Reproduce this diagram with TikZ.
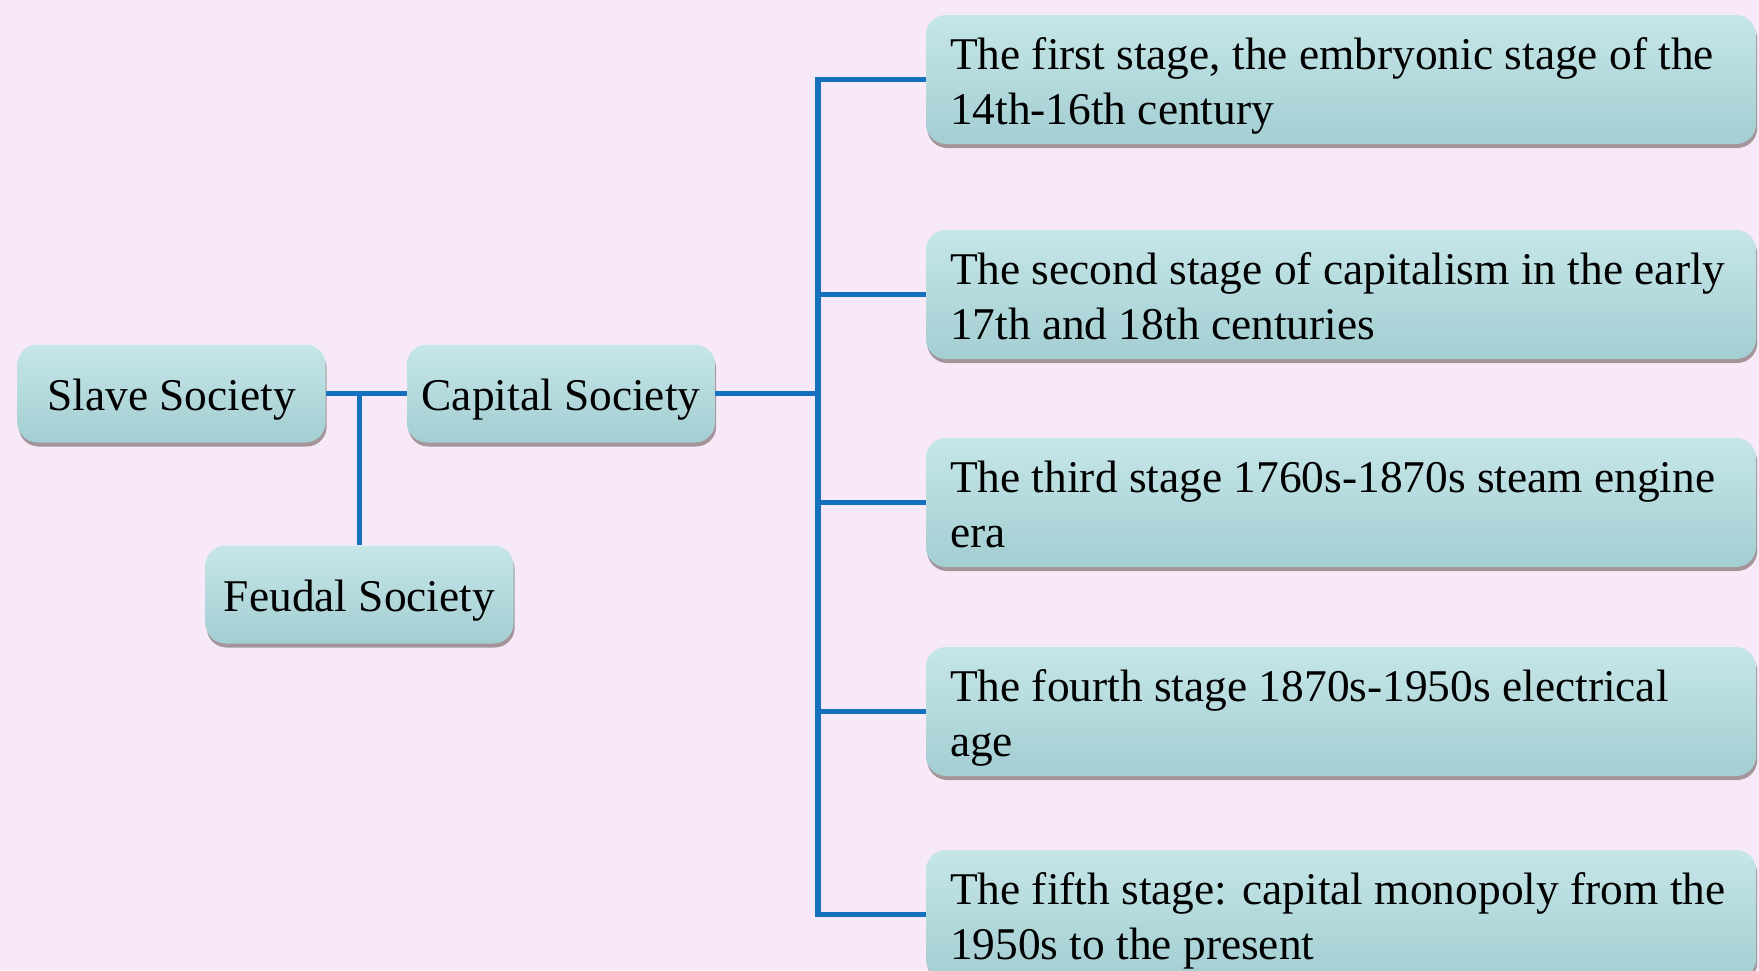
\documentclass[tikz,border=0pt]{standalone}
\usepackage{fontspec}
\setmainfont{Liberation Serif}
\usetikzlibrary{shadows}
\definecolor{bg}{HTML}{F7E9F8}
\definecolor{boxtop}{HTML}{C6E6E8}
\definecolor{boxbot}{HTML}{A3CED2}
\definecolor{link}{HTML}{1670C0}
\tikzset{
  sbox/.style={rounded corners=10pt, top color=boxtop, bottom color=boxbot,
    drop shadow={shadow xshift=0.6pt, shadow yshift=-2pt, fill=black!80!brown, opacity=0.4},
    inner sep=0pt, font=\fontsize{22.7}{27.5}\selectfont, text=black},
  smallbox/.style={sbox, minimum width=154pt, minimum height=49pt, text height=22pt, text depth=5.5pt},
  bigbox/.style={sbox, minimum width=415pt, minimum height=64.5pt},
  stxt/.style={anchor=west, inner sep=0pt, align=left,
    yshift=-3pt, font=\fontsize{22.7}{27.5}\selectfont, text=black},
  conn/.style={draw=link, line width=2.6pt}
}
\begin{document}
\begin{tikzpicture}[x=0.5pt,y=-0.5pt]
\fill[bg] (0,0) rectangle (1759,970);
\useasboundingbox (0,0) rectangle (1759,970);
\clip (0,0) rectangle (1759,970);

\node[smallbox] (slave) at (171.5,393.5) {Slave Society};
\node[smallbox] (capital) at (561,393.5) {Capital Society};
\node[smallbox] (feudal) at (359.5,594.5) {Feudal Society};

\node[bigbox] (s1) at (1341,79.5) {};
\node[bigbox] (s2) at (1341,294.5) {};
\node[bigbox] (s3) at (1341,502.5) {};
\node[bigbox] (s4) at (1341,711.5) {};
\node[bigbox] (s5) at (1341,914.5) {};

\node[stxt] (t1) at ([xshift=12pt]s1.west) {\strut The first stage, the embryonic stage of the\\\strut 14th-16th century};
\node[stxt] (t2) at ([xshift=12pt]s2.west) {\strut The second stage of capitalism in the early\\\strut 17th and 18th centuries};
\node[stxt] (t3) at ([xshift=12pt]s3.west) {\strut The third stage 1760s-1870s steam engine\\\strut era};
\node[stxt] (t4) at ([xshift=12pt]s4.west) {\strut The fourth stage 1870s-1950s electrical\\\strut age};
\node[stxt] (t5) at ([xshift=12pt]s5.west) {\strut The fifth stage: capital monopoly from the\\\strut 1950s to the present};

\coordinate (j1) at (feudal.north |- slave.east);
\coordinate (trunk) at (818,393.5);

\draw[conn] (slave.east) -- (capital.west);
\draw[conn] (j1) -- (feudal.north);
\draw[conn] (capital.east) -- (trunk);
\draw[conn] (s1.west) -| (trunk);
\draw[conn] (s5.west) -| (trunk);
\draw[conn] (s2.west) -- (s2.west -| trunk);
\draw[conn] (s3.west) -- (s3.west -| trunk);
\draw[conn] (s4.west) -- (s4.west -| trunk);
\end{tikzpicture}
\end{document}
